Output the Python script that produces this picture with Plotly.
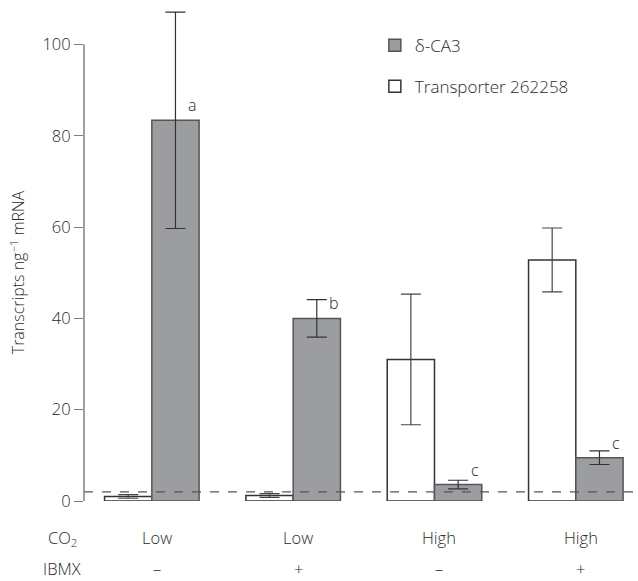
import plotly.graph_objects as go

groups = [0, 1, 2, 3]
co2_labels = ["Low", "Low", "High", "High"]
ibmx_labels = ["–", "+", "–", "+"]

ca3_values = [83.4, 40.0, 3.6, 9.5]
ca3_errors = [23.7, 4.1, 0.95, 1.5]
ca3_letters = ["a", "b", "c", "c"]

transporter_values = [1.0, 1.2, 31.0, 52.8]
transporter_errors = [0.4, 0.4, 14.3, 7.0]

detection_limit = 2.0
y_ticks = [0, 20, 40, 60, 80, 100]

FONT = "Open Sans"
TXT = "#2a2a2a"
W = 300


def f(size):
    return dict(family=FONT, size=size, color=TXT, weight=W)


fig = go.Figure()

fig.add_trace(go.Bar(
    x=groups, y=transporter_values, name="Transporter 262258",
    marker=dict(color="white", line=dict(color="#333333", width=1.5)),
    error_y=dict(type="data", array=transporter_errors, color="#444444",
                 thickness=1.2, width=10),
    legendrank=2, legendgroup="t",
))
fig.add_trace(go.Bar(
    x=groups, y=ca3_values, name="δ-CA3",
    marker=dict(color="#9c9da1", line=dict(color="#555555", width=1.5)),
    error_y=dict(type="data", array=ca3_errors, color="#333333",
                 thickness=1.2, width=10),
    legendrank=1, legendgroup="c",
))

fig.add_hline(y=detection_limit, line=dict(color="#555555", width=1.2, dash="dash"))

# y-axis line spanning the tick range only
fig.add_shape(type="line", xref="paper", yref="y", x0=0, x1=0,
              y0=y_ticks[0], y1=y_ticks[-1],
              line=dict(color="#808080", width=1.5))

annotations = []
for g, v, l in zip(groups, ca3_values, ca3_letters):
    annotations.append(dict(x=g + 0.167, y=v, xref="x", yref="y", text=l,
                            showarrow=False, xshift=17, yshift=15, font=f(16)))
for g, c, m in zip(groups, co2_labels, ibmx_labels):
    annotations.append(dict(x=g, y=0, xref="x", yref="paper", text=c,
                            showarrow=False, xshift=5, yshift=-36, yanchor="middle",
                            font=f(16.5)))
    annotations.append(dict(x=g, y=0, xref="x", yref="paper", text=m,
                            showarrow=False, xshift=5, yshift=-67, yanchor="middle",
                            font=f(16.5)))
annotations.append(dict(x=0, y=0, xref="paper", yref="paper", text="CO<sub>2</sub>",
                        showarrow=False, xshift=-22, yshift=-37, xanchor="center",
                        yanchor="middle", font=f(16.5)))
annotations.append(dict(x=0, y=0, xref="paper", yref="paper", text="IBMX",
                        showarrow=False, xshift=-22, yshift=-67, xanchor="center",
                        yanchor="middle", font=f(16.5)))
annotations.append(dict(x=0, y=0.464, xref="paper", yref="paper",
                        text="Transcripts ng<sup>−1</sup> mRNA", textangle=-90,
                        showarrow=False, xshift=-66, xanchor="center",
                        yanchor="middle", font=f(16)))

fig.update_layout(
    width=638, height=581,
    margin=dict(l=84, r=0, t=8, b=80),
    plot_bgcolor="white", paper_bgcolor="white",
    barmode="group", bargap=0.331, bargroupgap=0,
    font=f(16),
    showlegend=True,
    legend=dict(x=0.525, y=0.96, xanchor="left", yanchor="top",
                traceorder="grouped", tracegroupgap=16,
                font=f(17),
                bgcolor="rgba(0,0,0,0)"),
    annotations=annotations,
    xaxis=dict(range=[-0.48, 3.44], showticklabels=False, showline=False,
               showgrid=False, zeroline=False, ticks=""),
    yaxis=dict(range=[0, 108], tickvals=y_ticks, ticks="outside", ticklen=9,
               tickwidth=1.3, tickcolor="#808080", showline=False,
               showgrid=False, zeroline=False, tickfont=f(16.5)),
)

fig.write_html("out.html")
